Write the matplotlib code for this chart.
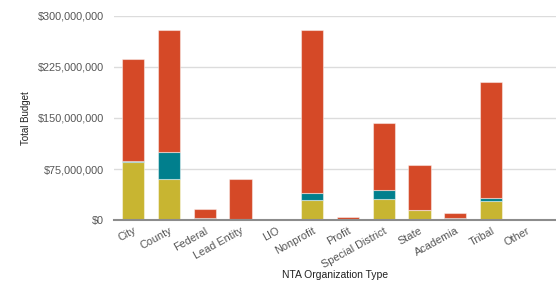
import matplotlib.pyplot as plt
import numpy as np
from matplotlib.ticker import FuncFormatter

plt.rcParams['font.family'] = ['Liberation Sans', 'DejaVu Sans']

# categories and stacked budget values (millions of dollars)
categories = ['City', 'County', 'Federal', 'Lead Entity', 'LIO', 'Nonprofit', 'Profit',
              'Special District', 'State', 'Academia', 'Tribal', 'Other']
yellow_vals = [85, 60, 2, 1, 0.4, 29, 0.3, 31, 14, 2, 28, 0.4]
teal_vals = [1.5, 40, 1.5, 0.2, 0.1, 10, 0.1, 13, 0.7, 0.3, 4, 0.1]
red_vals = [150.5, 180, 12.5, 59, 0.3, 241, 4, 99, 65.5, 8.5, 171, 0.3]

yellow = np.array(yellow_vals) * 1e6
teal = np.array(teal_vals) * 1e6
red = np.array(red_vals) * 1e6

fig = plt.figure(figsize=(5.56, 2.83), dpi=100)
ax = fig.add_axes([0.205, 0.2226, 0.795, 0.7209])

x = np.arange(len(categories))
w = 0.62
edge = (1, 1, 1, 0.45)
ax.bar(x, yellow, w, color='#c8b531', edgecolor=edge, linewidth=0.8, zorder=3)
ax.bar(x, teal, w, bottom=yellow, color='#017f8d', edgecolor=edge, linewidth=0.8, zorder=3)
ax.bar(x, red, w, bottom=yellow + teal, color='#d54927', edgecolor=edge, linewidth=0.8, zorder=3)

ax.set_ylim(0, 300e6)
ax.set_xlim(-0.53, 11.81)
ax.set_yticks(np.arange(0, 300e6 + 1, 75e6))
ax.yaxis.set_major_formatter(FuncFormatter(lambda v, p: '${:,.0f}'.format(v)))
ax.grid(axis='y', color='#dcdcdc', linewidth=1, zorder=0)

for s in ['top', 'right', 'left']:
    ax.spines[s].set_visible(False)
ax.spines['bottom'].set_color('#8c8c8c')
ax.spines['bottom'].set_linewidth(1.5)
ax.spines['bottom'].set_zorder(4)

ax.set_xticks(x)
ax.set_xticklabels(categories, rotation=29, ha='right', rotation_mode='anchor')
ax.tick_params(axis='both', length=0, labelsize=7.8, labelcolor='#555555')
ax.tick_params(axis='x', pad=4)
ax.tick_params(axis='y', pad=7)

ax.set_ylabel('Total Budget', fontsize=7, color='#222222', labelpad=5)
ax.set_xlabel('NTA Organization Type', fontsize=7.5, color='#222222', labelpad=0)

fig.savefig('out.png', dpi=100)
